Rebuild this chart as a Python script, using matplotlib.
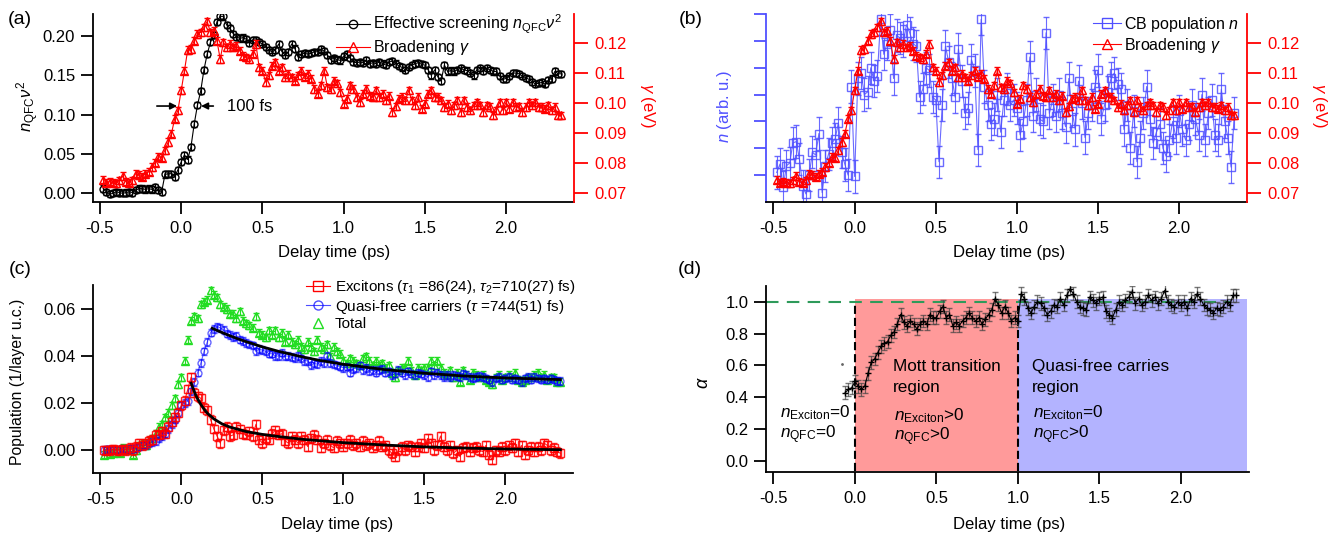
import numpy as np
import matplotlib
matplotlib.use("Agg")
import matplotlib.pyplot as plt
from matplotlib.lines import Line2D

# ---------------- data ----------------
# delay times (ps), 0.02 ps steps from -0.48 to 2.34
delay = np.round(np.arange(-0.48, 2.3401, 0.02), 2)

screening = [  # n_QFC nu^2, panel (a)
    0.006, 0.002, -0.001, 0.000, 0.002, 0.001, 0.000, 0.001, 0.002, 0.001,
    0.004, 0.006, 0.006, 0.005, 0.006, 0.005, 0.008, 0.004, 0.002, 0.024,
    0.025, 0.025, 0.021, 0.030, 0.040, 0.049, 0.043, 0.059, 0.088, 0.112,
    0.130, 0.157, 0.177, 0.192, 0.201, 0.218, 0.225, 0.225, 0.214, 0.210,
    0.203, 0.199, 0.197, 0.198, 0.196, 0.191, 0.195, 0.195, 0.192, 0.190,
    0.186, 0.182, 0.180, 0.182, 0.190, 0.180, 0.176, 0.180, 0.190, 0.184,
    0.173, 0.177, 0.178, 0.177, 0.178, 0.180, 0.180, 0.183, 0.181, 0.176,
    0.170, 0.172, 0.170, 0.169, 0.174, 0.177, 0.172, 0.167, 0.166, 0.167,
    0.166, 0.169, 0.165, 0.166, 0.165, 0.167, 0.165, 0.163, 0.167, 0.168,
    0.165, 0.162, 0.160, 0.157, 0.161, 0.163, 0.165, 0.166, 0.164, 0.163,
    0.157, 0.150, 0.157, 0.148, 0.143, 0.163, 0.155, 0.156, 0.155, 0.157,
    0.159, 0.157, 0.156, 0.153, 0.150, 0.157, 0.159, 0.156, 0.159, 0.157,
    0.155, 0.155, 0.149, 0.145, 0.146, 0.149, 0.153, 0.153, 0.152, 0.149,
    0.147, 0.145, 0.142, 0.139, 0.140, 0.141, 0.139, 0.144, 0.146, 0.155,
    0.152, 0.152]
screening_err = 0.004

broadening = [  # gamma (eV), panels (a) and (b)
    0.0746, 0.0735, 0.0739, 0.0735, 0.0733, 0.0744, 0.0758, 0.0739, 0.0735, 0.0744,
    0.0766, 0.0761, 0.0755, 0.0766, 0.0772, 0.0788, 0.0802, 0.0822, 0.0819, 0.0844,
    0.0871, 0.0899, 0.0949, 0.0977, 0.1043, 0.1109, 0.1178, 0.1181, 0.1209, 0.1231,
    0.1237, 0.1253, 0.1273, 0.1237, 0.1242, 0.1209, 0.1148, 0.1203, 0.1187, 0.1198,
    0.1187, 0.1192, 0.1176, 0.1159, 0.1154, 0.1148, 0.1165, 0.1198, 0.1120, 0.1109,
    0.1071, 0.1093, 0.1126, 0.1137, 0.1109, 0.1120, 0.1087, 0.1098, 0.1087, 0.1076,
    0.1093, 0.1109, 0.1089, 0.1098, 0.1082, 0.1048, 0.1032, 0.1060, 0.1109, 0.1054,
    0.1048, 0.1076, 0.1067, 0.1037, 0.0999, 0.1015, 0.1060, 0.1048, 0.1021, 0.1004,
    0.1032, 0.1048, 0.1026, 0.1021, 0.1043, 0.1021, 0.1032, 0.1010, 0.1026, 0.0971,
    0.0990, 0.1015, 0.1021, 0.1010, 0.1043, 0.1010, 0.0993, 0.1021, 0.0982, 0.0999,
    0.1032, 0.1043, 0.1021, 0.1021, 0.1010, 0.0988, 0.0999, 0.0977, 0.0993, 0.1010,
    0.0971, 0.1010, 0.0988, 0.0977, 0.0993, 0.1004, 0.0993, 0.0971, 0.0993, 0.0988,
    0.0960, 0.0977, 0.1004, 0.0977, 0.1004, 0.0982, 0.1004, 0.0988, 0.0990, 0.0971,
    0.0988, 0.1004, 0.0993, 0.1004, 0.0988, 0.0988, 0.0982, 0.0993, 0.0977, 0.0988,
    0.0960, 0.0960]
broadening_err = 0.0012

cb_population = [  # n (arb. u.), panel (b)
    1.10, 1.41, 0.55, 1.35, 1.45, 2.20, 2.25, 1.60, 0.60, 0.30,
    1.00, 1.85, 1.75, 2.55, 0.35, 1.35, 1.80, 2.20, 2.35, 2.95,
    1.85, 1.40, 1.00, 4.30, 0.95, 4.60, 4.80, 4.00, 4.10, 5.00,
    4.50, 4.70, 6.80, 5.50, 5.90, 6.40, 4.60, 6.20, 6.10, 6.00,
    6.60, 6.30, 5.90, 5.80, 3.90, 4.20, 5.00, 4.90, 3.90, 3.80,
    1.50, 3.60, 5.80, 5.20, 4.60, 3.90, 5.70, 4.50, 3.30, 3.50,
    5.30, 4.90, 1.95, 6.80, 4.30, 3.60, 2.90, 3.10, 4.00, 2.60,
    3.80, 4.20, 3.60, 3.80, 3.50, 2.50, 3.00, 3.80, 5.40, 3.20,
    4.00, 3.10, 3.00, 6.30, 3.30, 3.80, 3.20, 4.00, 3.30, 2.80,
    4.60, 3.40, 2.70, 4.50, 3.70, 2.40, 3.30, 3.60, 4.30, 4.90,
    3.10, 3.60, 4.10, 4.60, 4.80, 4.40, 4.20, 2.70, 3.60, 2.00,
    3.40, 1.50, 2.40, 3.30, 4.30, 3.10, 2.20, 2.60, 2.90, 2.00,
    1.70, 2.30, 3.00, 2.40, 3.40, 2.70, 2.30, 2.90, 3.60, 3.10,
    2.50, 4.00, 2.30, 3.30, 3.80, 2.50, 2.30, 4.20, 3.00, 2.40,
    1.30, 3.30]
cb_population_err = 0.6

excitons = [  # panel (c)
    0.000, 0.000, 0.000, 0.0005, 0.000, 0.000, 0.0005, 0.000, 0.001, 0.000,
    0.0015, 0.003, 0.002, 0.003, 0.004, 0.0045, 0.0065, 0.0065, 0.008, 0.007,
    0.010, 0.012, 0.014, 0.016, 0.019, 0.021, 0.026, 0.031, 0.0245, 0.023,
    0.022, 0.018, 0.017, 0.013, 0.009, 0.006, 0.003, 0.0085, 0.010, 0.006,
    0.0065, 0.010, 0.009, 0.007, 0.0065, 0.008, 0.006, 0.011, 0.0045, 0.003,
    0.005, 0.0045, 0.007, 0.0085, 0.0065, 0.007, 0.004, 0.003, 0.006, 0.0045,
    0.003, 0.006, 0.0045, 0.0015, 0.005, 0.0065, 0.0045, 0.001, 0.003, 0.0045,
    0.002, 0.001, 0.004, 0.003, 0.0015, 0.003, 0.0045, 0.002, 0.003, 0.0015,
    0.004, 0.002, 0.003, 0.001, 0.002, 0.004, 0.0015, 0.002, 0.000, -0.0013,
    -0.0027, 0.000, 0.0015, 0.000, 0.002, 0.0015, -0.0006, 0.0015, 0.003, 0.001,
    0.005, 0.003, 0.000, 0.002, 0.006, 0.0015, 0.000, 0.002, -0.0013, 0.000,
    -0.0027, 0.001, 0.0015, -0.0006, 0.001, 0.0015, 0.000, -0.0006, 0.002, -0.002,
    -0.004, 0.000, -0.0006, 0.0015, 0.000, 0.002, 0.001, 0.003, -0.0006, 0.002,
    -0.002, 0.000, 0.0015, -0.0006, 0.0015, 0.000, 0.003, 0.002, 0.000, 0.001,
    -0.0006, -0.0013]
excitons_err = 0.0019

qfc = [  # quasi-free carriers, panel (c)
    0.000, 0.0003, 0.000, 0.0002, 0.000, 0.0003, 0.0005, 0.0003, 0.0005, 0.0007,
    0.001, 0.0015, 0.002, 0.002, 0.003, 0.0035, 0.004, 0.005, 0.006, 0.007,
    0.009, 0.011, 0.013, 0.016, 0.019, 0.020, 0.021, 0.025, 0.029, 0.033,
    0.037, 0.042, 0.046, 0.050, 0.0515, 0.0525, 0.052, 0.051, 0.0495, 0.049,
    0.048, 0.0485, 0.047, 0.0465, 0.0455, 0.045, 0.0445, 0.042, 0.043, 0.0425,
    0.042, 0.041, 0.041, 0.040, 0.040, 0.0415, 0.040, 0.040, 0.0395, 0.039,
    0.040, 0.039, 0.038, 0.038, 0.036, 0.037, 0.0365, 0.038, 0.037, 0.040,
    0.037, 0.0365, 0.036, 0.0355, 0.035, 0.0355, 0.033, 0.0345, 0.035, 0.036,
    0.034, 0.035, 0.0335, 0.034, 0.033, 0.034, 0.0345, 0.033, 0.0335, 0.032,
    0.0325, 0.034, 0.033, 0.032, 0.0335, 0.0325, 0.032, 0.033, 0.0325, 0.032,
    0.031, 0.0335, 0.032, 0.033, 0.032, 0.031, 0.032, 0.031, 0.032, 0.0315,
    0.031, 0.0325, 0.032, 0.031, 0.0305, 0.031, 0.0315, 0.031, 0.0305, 0.030,
    0.029, 0.0305, 0.031, 0.030, 0.0305, 0.031, 0.030, 0.0305, 0.030, 0.029,
    0.0305, 0.031, 0.030, 0.031, 0.0305, 0.030, 0.0305, 0.030, 0.0305, 0.030,
    0.0295, 0.0295]
qfc_err = 0.0016

total = [  # panel (c)
    -0.002, 0.000, -0.0015, -0.001, 0.000, -0.001, 0.001, 0.000, 0.0005, -0.002,
    0.000, 0.002, 0.003, 0.002, 0.004, 0.005, 0.007, 0.010, 0.011, 0.014,
    0.016, 0.019, 0.022, 0.028, 0.031, 0.038, 0.047, 0.055, 0.057, 0.056,
    0.062, 0.063, 0.064, 0.068, 0.066, 0.065, 0.062, 0.061, 0.060, 0.058,
    0.058, 0.056, 0.059, 0.055, 0.054, 0.053, 0.052, 0.057, 0.050, 0.049,
    0.048, 0.051, 0.049, 0.051, 0.048, 0.050, 0.046, 0.049, 0.046, 0.045,
    0.047, 0.044, 0.043, 0.046, 0.044, 0.042, 0.047, 0.044, 0.043, 0.045,
    0.040, 0.044, 0.042, 0.041, 0.038, 0.037, 0.039, 0.038, 0.037, 0.036,
    0.039, 0.040, 0.038, 0.036, 0.038, 0.036, 0.037, 0.035, 0.036, 0.033,
    0.031, 0.034, 0.035, 0.035, 0.038, 0.034, 0.032, 0.035, 0.034, 0.035,
    0.035, 0.038, 0.036, 0.038, 0.035, 0.033, 0.032, 0.034, 0.031, 0.033,
    0.029, 0.034, 0.032, 0.030, 0.033, 0.032, 0.031, 0.032, 0.030, 0.029,
    0.028, 0.031, 0.032, 0.030, 0.031, 0.032, 0.031, 0.033, 0.030, 0.029,
    0.030, 0.031, 0.031, 0.032, 0.033, 0.031, 0.032, 0.030, 0.031, 0.031,
    0.029, 0.029]
total_err = 0.0015

# fit curves
exc_fit_t = [0.06, 0.07, 0.08, 0.09, 0.10, 0.12, 0.14, 0.16, 0.20, 0.25, 0.30, 0.40,
             0.50, 0.60, 0.75, 1.00, 1.25, 1.50, 1.75, 2.00, 2.34]
exc_fit_y = [0.0285, 0.0266, 0.0248, 0.0232, 0.0218, 0.0194, 0.0174, 0.0157, 0.0133,
             0.0112, 0.0098, 0.0079, 0.0067, 0.0058, 0.0046, 0.0032, 0.0022, 0.0014,
             0.0009, 0.0005, 0.0002]
qfc_fit_t = [0.19, 0.22, 0.25, 0.30, 0.35, 0.40, 0.45, 0.50, 0.60, 0.75, 0.85, 1.00,
             1.25, 1.50, 1.75, 2.00, 2.34]
qfc_fit_y = [0.0518, 0.0509, 0.0500, 0.0486, 0.0473, 0.0461, 0.0450, 0.0439, 0.0420,
             0.0396, 0.0382, 0.0365, 0.0343, 0.0327, 0.0315, 0.0307, 0.0300]

# panel (d): alpha, 0.02 ps steps from -0.06 to 2.34
delay_alpha = np.round(np.arange(-0.06, 2.3401, 0.02), 2)
alpha_vals = [
    0.43, 0.45, 0.46, 0.50, 0.47, 0.45, 0.47, 0.55, 0.62, 0.64,
    0.68, 0.72, 0.74, 0.75, 0.79, 0.81, 0.86, 0.92, 0.87, 0.85,
    0.88, 0.86, 0.83, 0.86, 0.88, 0.86, 0.92, 0.90, 0.90, 0.94,
    0.97, 0.90, 0.92, 0.85, 0.87, 0.85, 0.88, 0.90, 0.93, 0.90,
    0.88, 0.90, 0.86, 0.89, 0.92, 0.95, 1.02, 0.98, 0.93, 0.97,
    0.93, 0.88, 0.90, 0.88, 1.05, 1.02, 0.96, 0.93, 0.97, 1.00,
    0.99, 0.96, 0.92, 0.94, 0.98, 0.97, 1.02, 0.98, 1.04, 1.08,
    1.05, 1.00, 0.97, 0.96, 0.95, 1.03, 1.01, 0.99, 1.02, 1.03,
    0.94, 0.92, 0.90, 0.95, 1.00, 0.98, 1.01, 1.03, 1.06, 0.99,
    1.02, 0.98, 1.00, 1.04, 1.01, 1.03, 0.99, 1.02, 1.07, 1.00,
    0.98, 0.97, 1.00, 0.98, 1.00, 0.96, 1.02, 1.00, 1.05, 1.02,
    0.98, 0.96, 0.95, 0.93, 0.96, 0.95, 0.97, 1.00, 0.98, 1.04,
    1.04]
alpha_err = 0.04
alpha_stray = (-0.08, 0.61)

xticks = [-0.5, 0.0, 0.5, 1.0, 1.5, 2.0]

# ---------------- style ----------------
FAMILY = "Liberation Sans"
plt.rcParams.update({
    "font.family": [FAMILY, "DejaVu Sans"],
    "font.size": 12,
    "axes.unicode_minus": False,
    "mathtext.fontset": "custom",
    "mathtext.rm": FAMILY,
    "mathtext.it": FAMILY + ":italic",
    "mathtext.bf": FAMILY + ":bold",
    "axes.linewidth": 1.3,
    "xtick.major.size": 8.5, "ytick.major.size": 8.5,
    "xtick.major.width": 1.3, "ytick.major.width": 1.3,
    "xtick.direction": "out", "ytick.direction": "out",
    "xtick.major.pad": 5, "ytick.major.pad": 4,
    "xtick.labelsize": 12, "ytick.labelsize": 12,
})

W, H = 1339, 535
fig = plt.figure(figsize=(W / 100, H / 100), dpi=100)


def px_axes(l, r, t, b):
    return fig.add_axes([l / W, 1 - b / H, (r - l) / W, (b - t) / H])


def ftext(x, y, s, **kw):
    fig.text(x / W, 1 - y / H, s, **kw)


XL = (-0.546, 2.418)
RED = "#FF0000"
BLUE = "#0000FF"
BBLUE = "#5050FF"
GREEN = "#22DD22"

# ---------------- (a) ----------------
axA = px_axes(92.5, 574, 14, 202)
axA.errorbar(delay, screening, yerr=screening_err, fmt="-o", color="k", mfc="none",
             mec="k", ms=5, lw=0.8, elinewidth=0.8, capsize=2, zorder=2)
axA.set_xlim(XL)
axA.set_ylim(-0.011, 0.228)
axA.set_yticks([0.00, 0.05, 0.10, 0.15, 0.20])
axA.set_xticks(xticks)
axA.spines["top"].set_visible(False)
axA.spines["right"].set_visible(False)
axA.annotate("", xy=(-0.008, 0.111), xytext=(-0.167, 0.111),
             arrowprops=dict(arrowstyle="-|>", color="k", lw=1.2, mutation_scale=10))
axA.annotate("", xy=(0.105, 0.111), xytext=(0.215, 0.111),
             arrowprops=dict(arrowstyle="-|>", color="k", lw=1.2, mutation_scale=10))
axA.text(0.284, 0.111, "100 fs", va="center", ha="left", fontsize=12)

axA2 = axA.twinx()
axA2.errorbar(delay, broadening, yerr=broadening_err, fmt="-^", color=RED, mfc="none",
              mec=RED, ms=5.5, lw=0.8, elinewidth=0.8, capsize=2)
axA2.set_ylim(0.0671, 0.1298)
axA2.set_yticks([0.07, 0.08, 0.09, 0.10, 0.11, 0.12])
for s in ["top", "left", "bottom"]:
    axA2.spines[s].set_visible(False)
axA2.spines["right"].set_color(RED)
axA2.tick_params(axis="y", colors=RED, length=10, pad=5)
axA2.set_xlim(XL)

fig.legend(handles=[Line2D([], [], color="k", marker="o", mfc="none", ms=6, lw=0.8),
                    Line2D([], [], color=RED, marker="^", mfc="none", ms=6.5, lw=0.8)],
           labels=[r"Effective screening $n_{\mathrm{QFC}}\nu^2$", r"Broadening $\gamma$"],
           loc="upper left", bbox_to_anchor=(336 / W, 1 - 13 / H), frameon=False,
           borderpad=0, borderaxespad=0, handlelength=2.1, handletextpad=0.2,
           labelspacing=0.12, fontsize=11.5)

ftext(28, 106, r"$n_{\mathrm{QFC}}\nu^2$", rotation=90, ha="center", va="center", fontsize=12)
ftext(648, 106, r"$\gamma$ (eV)", rotation=270, ha="center", va="center", fontsize=12, color=RED)
ftext(334, 253, "Delay time (ps)", ha="center", va="center", fontsize=12)
ftext(20, 19, "(a)", ha="center", va="center", fontsize=14)

# ---------------- (b) ----------------
axB = px_axes(766, 1247, 14, 202)
axB.errorbar(delay, cb_population, yerr=cb_population_err, fmt="-s", color=BBLUE,
             mfc="none", mec=BBLUE, ms=6, lw=0.8, elinewidth=0.8, capsize=2, alpha=0.85)
axB.set_xlim(XL)
axB.set_ylim(0, 7.0)
axB.set_yticks([1, 2, 3, 4, 5, 6, 7])
axB.set_yticklabels([])
axB.set_xticks(xticks)
axB.spines["top"].set_visible(False)
axB.spines["right"].set_visible(False)
axB.spines["left"].set_color(BBLUE)
axB.tick_params(axis="y", colors=BBLUE)

axB2 = axB.twinx()
axB2.errorbar(delay, broadening, yerr=broadening_err, fmt="-^", color=RED, mfc="none",
              mec=RED, ms=5.5, lw=0.8, elinewidth=0.8, capsize=2)
axB2.set_ylim(0.0671, 0.1298)
axB2.set_yticks([0.07, 0.08, 0.09, 0.10, 0.11, 0.12])
for s in ["top", "left", "bottom"]:
    axB2.spines[s].set_visible(False)
axB2.spines["right"].set_color(RED)
axB2.tick_params(axis="y", colors=RED, length=10, pad=5)
axB2.set_xlim(XL)

fig.legend(handles=[Line2D([], [], color=BBLUE, marker="s", mfc="none", ms=7, lw=0.8),
                    Line2D([], [], color=RED, marker="^", mfc="none", ms=6.5, lw=0.8)],
           labels=[r"CB population $n$", r"Broadening $\gamma$"],
           loc="upper left", bbox_to_anchor=(1093 / W, 1 - 15 / H), frameon=False,
           borderpad=0, borderaxespad=0, handlelength=1.75, handletextpad=0.2,
           labelspacing=0.12, fontsize=11.5)

ftext(725, 106, r"$n$ (arb. u.)", rotation=90, ha="center", va="center", fontsize=12, color=BBLUE)
ftext(1320, 106, r"$\gamma$ (eV)", rotation=270, ha="center", va="center", fontsize=12, color=RED)
ftext(1009, 253, "Delay time (ps)", ha="center", va="center", fontsize=12)
ftext(691, 19, "(b)", ha="center", va="center", fontsize=14)

# ---------------- (c) ----------------
axC = px_axes(93, 573, 285, 473)
axC.errorbar(delay, total, yerr=total_err, fmt="^", color=GREEN, mfc="none", mec=GREEN,
             ms=5.5, elinewidth=0.8, capsize=2, zorder=2)
axC.errorbar(delay, qfc, yerr=qfc_err, fmt="-o", color=BLUE, mfc="none", mec=BLUE,
             ms=5, lw=0.8, elinewidth=0.8, capsize=2, alpha=0.6, zorder=3)
axC.errorbar(delay, excitons, yerr=excitons_err, fmt="-s", color=RED, mfc="none", mec=RED,
             ms=5.5, lw=0.8, elinewidth=0.8, capsize=2, alpha=0.85, zorder=3)
axC.plot(exc_fit_t, exc_fit_y, color="k", lw=2, zorder=5)
axC.plot(qfc_fit_t, qfc_fit_y, color="k", lw=2, zorder=5)
axC.set_xlim(XL)
axC.set_ylim(-0.0097, 0.0702)
axC.set_yticks([0.00, 0.02, 0.04, 0.06])
axC.set_xticks(xticks)
axC.spines["top"].set_visible(False)
axC.spines["right"].set_visible(False)

fig.legend(handles=[Line2D([], [], color=RED, marker="s", mfc="none", ms=7, lw=0.8),
                    Line2D([], [], color=BLUE, marker="o", mfc="none", ms=6.5, lw=0.8, alpha=0.7),
                    Line2D([], [], color=GREEN, marker="^", mfc="none", ms=7, lw=0)],
           labels=[r"Excitons ($\tau_1$ =86(24), $\tau_2$=710(27) fs)",
                   r"Quasi-free carriers ($\tau$ =744(51) fs)", "Total"],
           loc="upper left", bbox_to_anchor=(306 / W, 1 - 278 / H), frameon=False,
           borderpad=0, borderaxespad=0, handlelength=1.6, handletextpad=0.3,
           labelspacing=0.1, fontsize=11)

ftext(18, 382, "Population (1/layer u.c.)", rotation=90, ha="center", va="center", fontsize=11.3)
ftext(337, 525, "Delay time (ps)", ha="center", va="center", fontsize=12)
ftext(20, 270, "(c)", ha="center", va="center", fontsize=14)

# ---------------- (d) ----------------
axD = px_axes(766, 1249, 286, 472)
axD.fill_between([0.0, 1.0], -0.065, 1.015, color="#FF9A9A", lw=0, zorder=0)
axD.fill_between([1.0, 2.405], -0.065, 1.015, color="#B3B3FF", lw=0, zorder=0)
axD.plot([-0.546, 2.30], [1.0, 1.0], color="#2E9A5A", lw=1.5, dashes=(6, 4), zorder=1)
for xv in [0.0, 1.0]:
    axD.plot([xv, xv], [-0.065, 1.0], color="k", lw=1.5, dashes=(3.9, 1.9), zorder=1)
axD.errorbar(delay_alpha, alpha_vals, yerr=alpha_err, fmt="-+", color="k", ms=5, lw=0.8,
             elinewidth=0.9, ecolor=(0.25, 0.25, 0.25, 0.7), capsize=2.5, zorder=3)
axD.plot([alpha_stray[0]], [alpha_stray[1]], ".", color="0.4", ms=2)
axD.set_xlim(XL)
axD.set_ylim(-0.069, 1.099)
axD.set_yticks([0.0, 0.2, 0.4, 0.6, 0.8, 1.0])
axD.set_xticks(xticks)
axD.spines["top"].set_visible(False)
axD.spines["right"].set_visible(False)

tf = 12.3
axD.text(0.235, 0.565, "Mott transition", fontsize=tf)
axD.text(0.235, 0.433, "region", fontsize=tf)
axD.text(1.088, 0.565, "Quasi-free carries", fontsize=tf)
axD.text(1.088, 0.433, "region", fontsize=tf)
axD.text(-0.459, 0.275, r"$n_{\mathrm{Exciton}}$=0", fontsize=tf)
axD.text(-0.459, 0.142, r"$n_{\mathrm{QFC}}$=0", fontsize=tf)
axD.text(0.24, 0.253, r"$n_{\mathrm{Exciton}}$>0", fontsize=tf)
axD.text(0.24, 0.128, r"$n_{\mathrm{QFC}}$>0", fontsize=tf)
axD.text(1.093, 0.275, r"$n_{\mathrm{Exciton}}$=0", fontsize=tf)
axD.text(1.093, 0.142, r"$n_{\mathrm{QFC}}$>0", fontsize=tf)

ftext(703, 383, r"$\alpha$", rotation=90, ha="center", va="center", fontsize=13)
ftext(1009, 525, "Delay time (ps)", ha="center", va="center", fontsize=12)
ftext(690, 270, "(d)", ha="center", va="center", fontsize=14)

fig.savefig("out.png", dpi=100)
